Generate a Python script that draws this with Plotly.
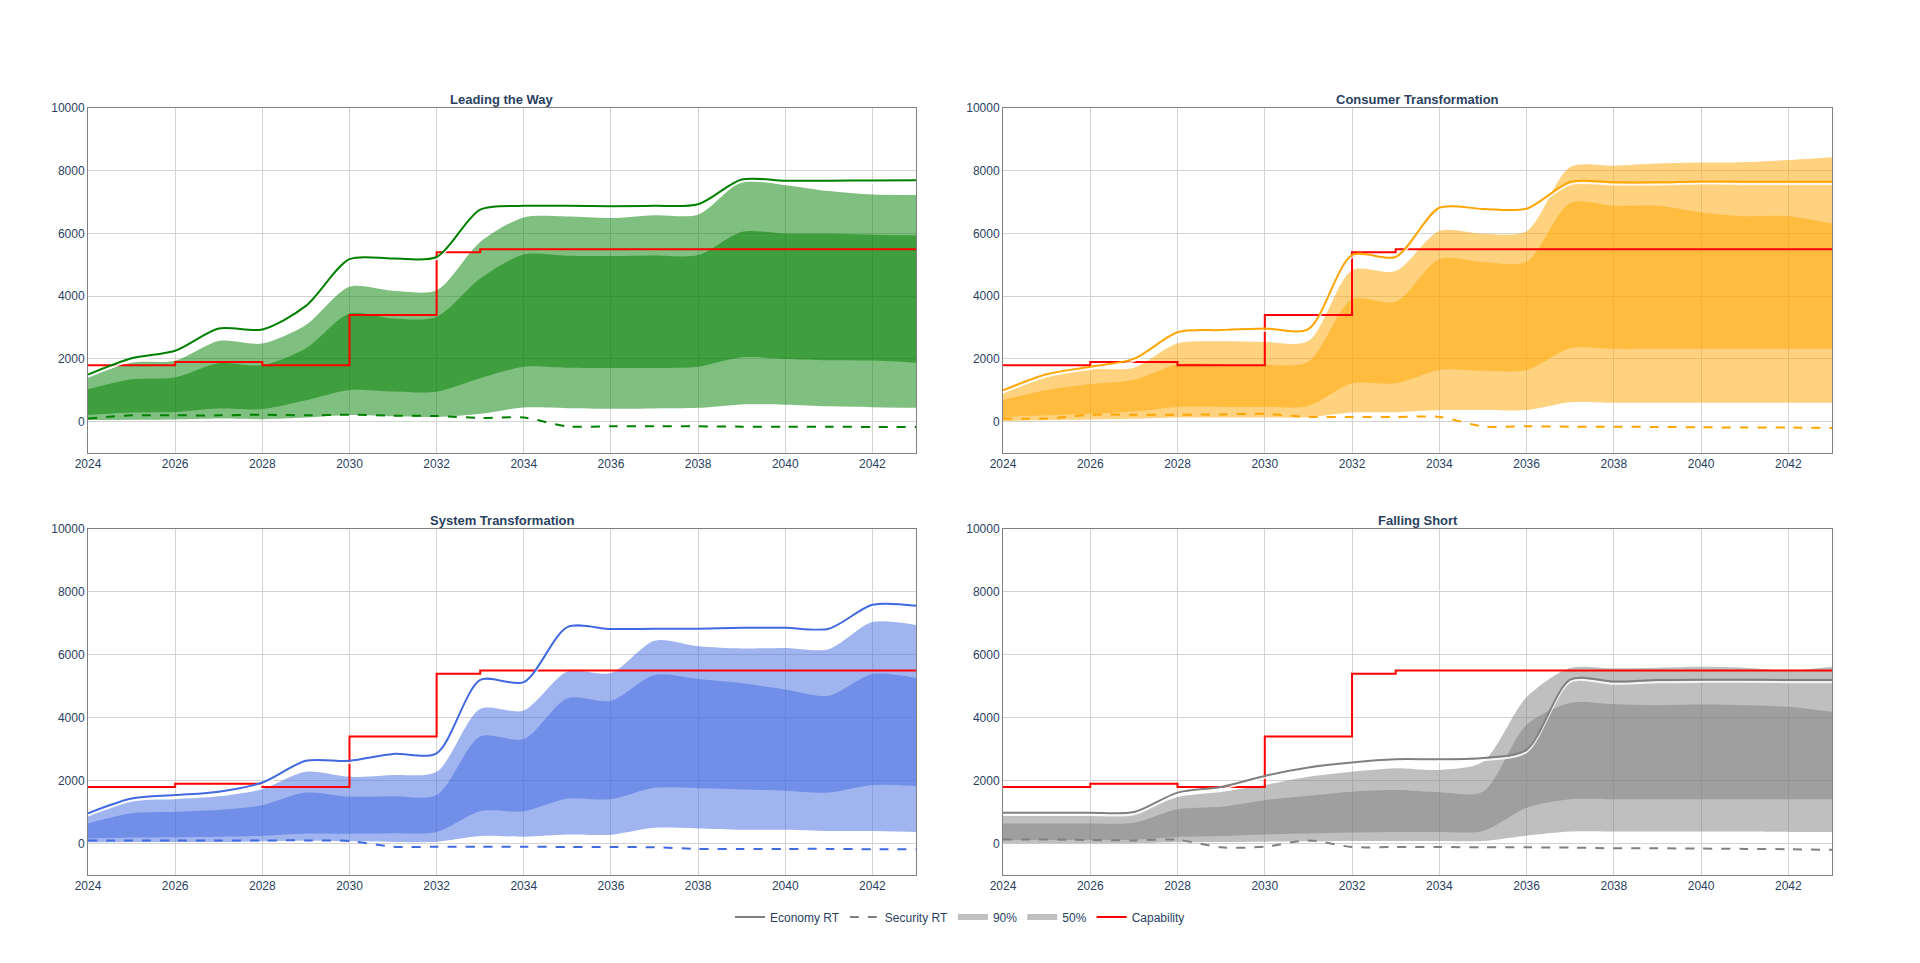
import plotly.graph_objects as go

years = [2024, 2025, 2026, 2027, 2028, 2029, 2030, 2031, 2032, 2033,
         2034, 2035, 2036, 2037, 2038, 2039, 2040, 2041, 2042, 2043]

capability = [1800, 1800, 1900, 1900, 1800, 1800, 3400, 3400, 5400, 5500,
              5500, 5500, 5500, 5500, 5500, 5500, 5500, 5500, 5500, 5500]

# Leading the Way
ltw_econ = [1500, 2020, 2260, 2970, 2940, 3690, 5180, 5200, 5250, 6760, 6880, 6880, 6870, 6880, 6930, 7720, 7680, 7680, 7690, 7700]
ltw_sec = [100, 200, 200, 200, 220, 200, 220, 190, 180, 120, 130, -150, -150, -150, -150, -160, -160, -160, -170, -170]
ltw_p90_hi = [1430, 1880, 1940, 2570, 2490, 3080, 4300, 4170, 4190, 5730, 6510, 6540, 6490, 6580, 6600, 7640, 7540, 7350, 7240, 7230]
ltw_p90_lo = [50, 60, 70, 100, 80, 130, 210, 170, 150, 250, 450, 430, 410, 420, 440, 550, 540, 490, 460, 440]
ltw_p50_hi = [1030, 1350, 1410, 1860, 1800, 2340, 3450, 3290, 3340, 4560, 5330, 5290, 5280, 5300, 5310, 6050, 6000, 5990, 5960, 5940]
ltw_p50_lo = [210, 290, 310, 420, 400, 680, 1010, 960, 950, 1380, 1750, 1720, 1710, 1710, 1750, 2050, 2000, 1960, 1950, 1880]

# Consumer Transformation
ct_econ = [1000, 1510, 1750, 2000, 2850, 2920, 2970, 2950, 5310, 5250, 6820, 6780, 6790, 7640, 7630, 7630, 7660, 7650, 7650, 7650]
ct_sec = [100, 100, 220, 220, 220, 230, 250, 150, 150, 150, 150, -150, -150, -160, -160, -170, -180, -190, -190, -200]
ct_p90_hi = [900, 1450, 1680, 1720, 2500, 2560, 2540, 2570, 4830, 4800, 6080, 5990, 6070, 8120, 8160, 8230, 8260, 8270, 8340, 8430]
ct_p90_lo = [20, 50, 70, 90, 130, 130, 130, 140, 290, 300, 370, 370, 370, 620, 600, 600, 600, 600, 600, 600]
ct_p50_hi = [690, 1010, 1200, 1330, 1830, 1830, 1810, 1910, 3900, 3820, 5180, 5090, 5100, 6970, 6880, 6880, 6670, 6550, 6550, 6320]
ct_p50_lo = [150, 200, 250, 320, 470, 470, 470, 500, 1220, 1220, 1650, 1620, 1640, 2340, 2320, 2320, 2320, 2320, 2320, 2320]

# System Transformation
st_econ = [960, 1430, 1540, 1650, 1940, 2630, 2630, 2850, 2870, 5200, 5130, 6880, 6820, 6830, 6830, 6860, 6860, 6830, 7590, 7560]
st_sec = [100, 100, 100, 100, 100, 100, 80, -100, -100, -100, -100, -110, -110, -120, -170, -170, -170, -170, -180, -180]
st_p90_hi = [900, 1360, 1410, 1500, 1730, 2280, 2120, 2180, 2280, 4280, 4230, 5470, 5420, 6450, 6270, 6200, 6220, 6180, 7040, 6950]
st_p90_lo = [40, 50, 50, 50, 70, 90, 70, 50, 60, 240, 220, 290, 280, 500, 480, 440, 440, 400, 400, 370]
st_p50_hi = [640, 960, 1010, 1070, 1220, 1620, 1490, 1500, 1540, 3400, 3320, 4620, 4540, 5360, 5230, 5100, 4900, 4700, 5390, 5260]
st_p50_lo = [160, 190, 200, 220, 250, 320, 310, 330, 370, 1030, 1030, 1430, 1410, 1770, 1760, 1720, 1680, 1620, 1860, 1830]

# Falling Short
fs_econ = [980, 980, 980, 1000, 1620, 1800, 2150, 2420, 2580, 2680, 2680, 2720, 2980, 5210, 5150, 5200, 5210, 5210, 5200, 5200]
fs_sec = [130, 130, 110, 100, 120, -120, -100, 100, -110, -110, -110, -120, -120, -130, -150, -150, -160, -170, -180, -200]
fs_p90_hi = [900, 900, 900, 950, 1480, 1640, 1860, 2120, 2280, 2390, 2340, 2600, 4650, 5580, 5570, 5590, 5620, 5590, 5500, 5620]
fs_p90_lo = [10, 10, 10, 10, 40, 50, 60, 70, 80, 80, 80, 80, 250, 380, 380, 380, 380, 380, 370, 370]
fs_p50_hi = [640, 640, 640, 660, 1090, 1170, 1380, 1520, 1650, 1700, 1630, 1650, 3780, 4470, 4430, 4400, 4420, 4400, 4350, 4190]
fs_p50_lo = [110, 110, 110, 120, 210, 240, 290, 320, 350, 370, 370, 400, 1140, 1410, 1410, 1410, 1410, 1410, 1410, 1410]

titles = ["Leading the Way", "Consumer Transformation", "System Transformation", "Falling Short"]
colors = ["#008000", "#FFA500", "#4169E1", "#808080"]
fills = ["rgba(0,128,0,0.5)", "rgba(255,165,0,0.5)", "rgba(65,105,225,0.5)", "rgba(128,128,128,0.5)"]
scen = [
    (ltw_econ, ltw_sec, ltw_p90_lo, ltw_p90_hi, ltw_p50_lo, ltw_p50_hi),
    (ct_econ, ct_sec, ct_p90_lo, ct_p90_hi, ct_p50_lo, ct_p50_hi),
    (st_econ, st_sec, st_p90_lo, st_p90_hi, st_p50_lo, st_p50_hi),
    (fs_econ, fs_sec, fs_p90_lo, fs_p90_hi, fs_p50_lo, fs_p50_hi),
]

W, H = 1920, 963
xdoms = [(88 / W, 916 / W), (1003 / W, 1832 / W)]
ydoms = [(1 - 453 / H, 1 - 108 / H), (1 - 875 / H, 1 - 529 / H)]
SHADOW = 70  # data-unit offset of the white drop shadow under the economy line

fig = go.Figure()
NAVY = "#2a3f5f"
annotations = []
layout_axes = {}
for i, (econ, sec, p90lo, p90hi, p50lo, p50hi) in enumerate(scen):
    n = "" if i == 0 else str(i + 1)
    xa, ya = "x" + n, "y" + n
    c, f = colors[i], fills[i]
    sp = dict(shape="spline", smoothing=0.8)
    fig.add_trace(go.Scatter(x=years, y=p90lo, xaxis=xa, yaxis=ya, mode="lines",
                             line=dict(width=0, color=f, **sp), showlegend=False, hoverinfo="skip"))
    fig.add_trace(go.Scatter(x=years, y=p90hi, xaxis=xa, yaxis=ya, mode="lines", fill="tonexty",
                             fillcolor=f, line=dict(width=0, color=f, **sp), showlegend=False, hoverinfo="skip"))
    fig.add_trace(go.Scatter(x=years, y=p50lo, xaxis=xa, yaxis=ya, mode="lines",
                             line=dict(width=0, color=f, **sp), showlegend=False, hoverinfo="skip"))
    fig.add_trace(go.Scatter(x=years, y=p50hi, xaxis=xa, yaxis=ya, mode="lines", fill="tonexty",
                             fillcolor=f, line=dict(width=0, color=f, **sp), showlegend=False, hoverinfo="skip"))
    fig.add_trace(go.Scatter(x=years, y=sec, xaxis=xa, yaxis=ya, mode="lines",
                             line=dict(width=2, color=c, dash="dash", **sp), showlegend=False))
    fig.add_trace(go.Scatter(x=years, y=capability, xaxis=xa, yaxis=ya, mode="lines",
                             line=dict(width=2, color="#FF0000", shape="hv"), showlegend=False))
    fig.add_trace(go.Scatter(x=years, y=[v - SHADOW for v in econ], xaxis=xa, yaxis=ya, mode="lines",
                             line=dict(width=2, color="rgba(255,255,255,0.85)", **sp), showlegend=False, hoverinfo="skip"))
    fig.add_trace(go.Scatter(x=years, y=econ, xaxis=xa, yaxis=ya, mode="lines",
                             line=dict(width=2, color=c, **sp), showlegend=False))

    col, row = i % 2, i // 2
    axcommon = dict(showgrid=True, gridcolor="#d3d3d3", gridwidth=1, showline=True, linecolor="#808080",
                    linewidth=1, mirror=True, zeroline=False, ticks="", automargin=False,
                    tickfont=dict(family="Arial", size=12, color=NAVY))
    layout_axes["xaxis" + n] = dict(domain=xdoms[col], anchor=ya, range=[2024, 2043], dtick=2, tick0=2024,
                                    tickformat="d", **axcommon)
    layout_axes["yaxis" + n] = dict(domain=ydoms[row], anchor=xa, range=[-1000, 10000], dtick=2000, tick0=0,
                                    tickformat="d", **axcommon)
    annotations.append(dict(text="<b>" + titles[i] + "</b>", x=sum(xdoms[col]) / 2, y=ydoms[row][1],
                            xref="paper", yref="paper", xanchor="center", yanchor="bottom", yshift=-1,
                            showarrow=False, font=dict(family="Arial", size=13, color=NAVY)))

# Legend entries
fig.add_trace(go.Scatter(x=[None], y=[None], mode="lines", name="Economy RT", line=dict(color="#808080", width=2)))
fig.add_trace(go.Scatter(x=[None], y=[None], mode="lines", name="Security RT", line=dict(color="#808080", width=2, dash="dash")))
fig.add_trace(go.Scatter(x=[None], y=[None], mode="lines", name="90%", line=dict(color="#c0c0c0", width=6)))
fig.add_trace(go.Scatter(x=[None], y=[None], mode="lines", name="50%", line=dict(color="#c0c0c0", width=6)))
fig.add_trace(go.Scatter(x=[None], y=[None], mode="lines", name="Capability", line=dict(color="#FF0000", width=2)))

fig.update_layout(
    width=W, height=H, autosize=False,
    margin=dict(l=0, r=0, t=0, b=0, pad=0),
    paper_bgcolor="white", plot_bgcolor="white",
    font=dict(family="Arial", size=12, color=NAVY),
    showlegend=True,
    legend=dict(orientation="h", x=0.5, xanchor="center", y=1 - 917 / H, yanchor="middle",
                traceorder="normal",
                font=dict(family="Arial", size=12, color=NAVY), bgcolor="rgba(0,0,0,0)"),
    annotations=annotations,
    **layout_axes,
)

fig.write_html("out.html", config={"displayModeBar": False},
               post_script="document.body.style.margin='0';")
